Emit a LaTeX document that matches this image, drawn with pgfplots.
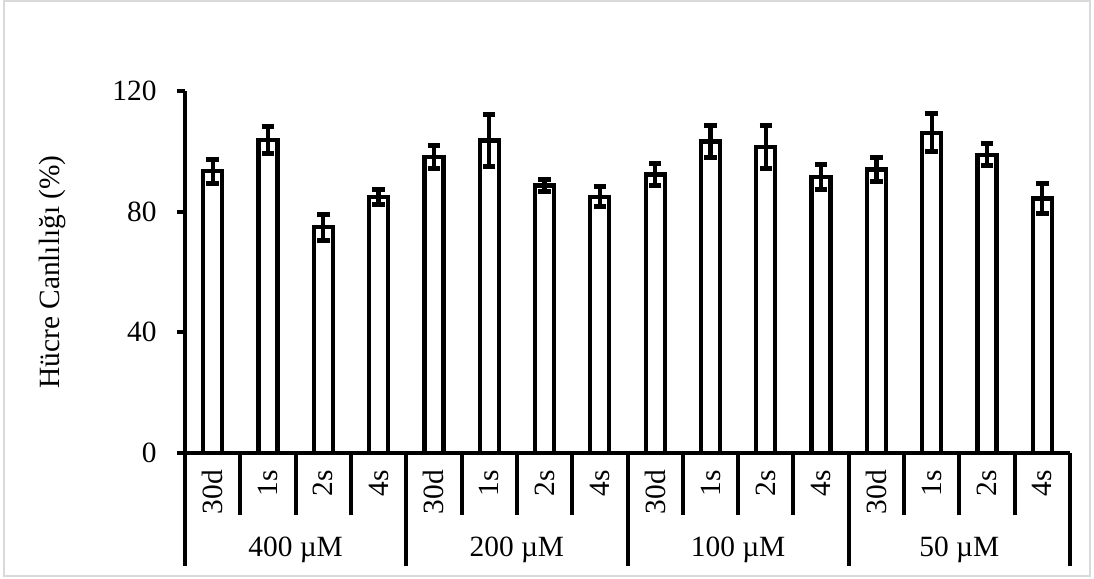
\documentclass[border=0pt]{standalone}
\usepackage{pgfplots}
\pgfplotsset{compat=1.18}
\usepackage{pgfplotstable}
\usepackage{fontspec}
\setmainfont{Liberation Serif}
\pgfplotstableread{
x y err
0 93.4 4
1 103.7 4.5
2 74.9 4.3
3 84.8 2.4
4 98.1 3.7
5 103.6 8.7
6 88.7 2.1
7 84.9 3.3
8 92.3 3.7
9 103.3 5.2
10 101.4 7
11 91.6 4.2
12 94 4
13 106.2 6.3
14 98.9 3.7
15 84.4 5
}\datatable
\begin{document}
\begin{tikzpicture}[font=\fontsize{11.8}{14}\selectfont]
\useasboundingbox (0bp,0bp) rectangle (437.6bp,231.6bp);
\draw[black!15, line width=0.8bp] (1.6bp,1.2bp) rectangle (436bp,231.2bp);
\node[rotate=90] at (20.8bp,122.8bp) {Hücre Canlılığı (\%)};
\begin{axis}[
  at={(74bp,50.4bp)}, anchor=south west,
  scale only axis, width=354bp, height=144.8bp,
  xmin=-0.5, xmax=15.5, ymin=0, ymax=120,
  axis x line*=bottom, axis y line*=left,
  axis line style={line width=1.7bp},
  ytick={0,40,80,120},
  tick align=outside,
  major tick length=3.2bp,
  ytick style={line width=1.7bp, black},
  xtick=data,
  xtick style={draw=none},
  xticklabels={30d,1s,2s,4s,30d,1s,2s,4s,30d,1s,2s,4s,30d,1s,2s,4s},
  xticklabel style={rotate=90, anchor=east, inner sep=0pt},
  xticklabel shift=3.4bp,
  yticklabel style={inner sep=0pt, anchor=east},
  yticklabel shift=8bp,
  tick label style={font=\fontsize{11.8}{14}\selectfont},
  /pgf/number format/assume math mode=true,
  clip=false,
  ybar, bar width=7.6bp,
]
\addplot[draw=black, fill=white, line width=1.7bp,
  error bars/.cd, y dir=both, y explicit,
  error bar style={line width=1.7bp, black},
  error mark options={rotate=90, mark size=2.5bp, line width=2bp, black}]
  table[x=x, y=y, y error=err] {\datatable};
\pgfplotsinvokeforeach{0.5,1.5,2.5,4.5,5.5,6.5,8.5,9.5,10.5,12.5,13.5,14.5}{
  \draw[line width=1.6bp] (axis cs:#1,0) -- ++(0bp,-24.8bp);
}
\pgfplotsinvokeforeach{-0.5,3.5,7.5,11.5,15.5}{
  \draw[line width=1.6bp] (axis cs:#1,0) -- ++(0bp,-45bp);
}
\node at ([yshift=-38.6bp]axis cs:1.5,0) {400 µM};
\node at ([yshift=-38.6bp]axis cs:5.5,0) {200 µM};
\node at ([yshift=-38.6bp]axis cs:9.5,0) {100 µM};
\node at ([yshift=-38.6bp]axis cs:13.5,0) {50 µM};
\end{axis}
\end{tikzpicture}
\end{document}
